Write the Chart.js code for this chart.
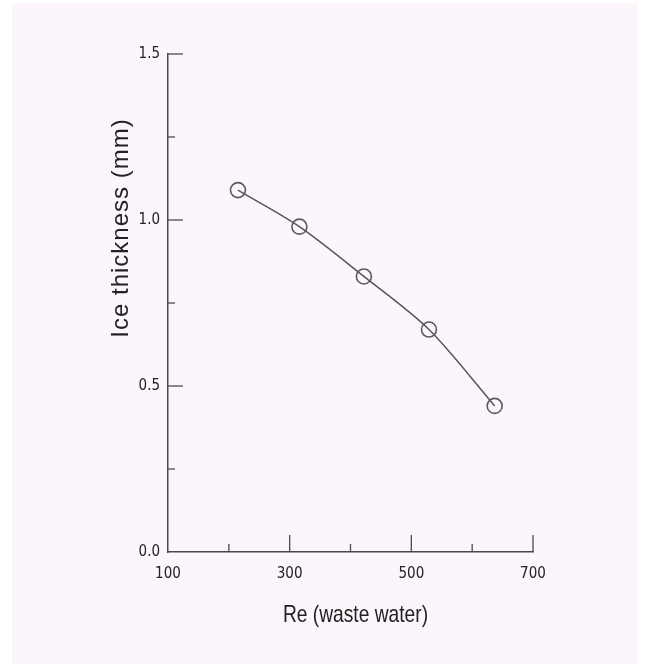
<!DOCTYPE html>
<html>
<head>
<meta charset="utf-8">
<script src="https://cdn.jsdelivr.net/npm/chart.js@4.4.1/dist/chart.umd.min.js"></script>
<style>
  html, body { margin: 0; padding: 0; background: #ffffff; }
  #paper { position: absolute; left: 12px; top: 3px; width: 626px; height: 661px; background: #fcf5fb; }
  #wrap { position: absolute; left: 0; top: 0; width: 645px; height: 664px; }
</style>
</head>
<body>
<div id="paper"></div>
<div id="wrap"><canvas id="chart"></canvas></div>
<script>
// data
const reynolds = [215, 316, 422, 529, 637];
const iceThickness = [1.09, 0.98, 0.83, 0.67, 0.44];

// tick labels shown on the axes
const xTickLabels = [100, 300, 500, 700];
const yTickLabels = ['0.0', '0.5', '1.0', '1.5'];

const xTitle = 'Re (waste water)';
const yTitle = 'Ice thickness (mm)';

const condensed = "'DejaVu Sans Condensed', 'Liberation Sans', sans-serif";
const axisColor = '#4a4a4a';

// ticks point inward, long ones where there is a label
const inwardTicks = {
    id: 'inwardTicks',
    afterDraw(chart) {
        const ctx = chart.ctx;
        const xs = chart.scales.x, ys = chart.scales.y;
        const area = chart.chartArea;
        ctx.save();
        ctx.strokeStyle = axisColor;
        ctx.lineWidth = 1.3;
        xs.ticks.forEach(t => {
            if (t.value === xs.min) return;
            const px = xs.getPixelForValue(t.value);
            const len = xTickLabels.includes(t.value) ? 17 : 8;
            ctx.beginPath();
            ctx.moveTo(px, area.bottom);
            ctx.lineTo(px, area.bottom - len);
            ctx.stroke();
        });
        ys.ticks.forEach(t => {
            if (t.value === ys.min) return;
            const py = ys.getPixelForValue(t.value);
            const labelled = Math.abs(t.value * 2 - Math.round(t.value * 2)) < 1e-9;
            const len = labelled ? 15 : 7;
            ctx.beginPath();
            ctx.moveTo(area.left, py);
            ctx.lineTo(area.left + len, py);
            ctx.stroke();
        });

        // axis titles
        ctx.fillStyle = '#222';
        ctx.textAlign = 'center';
        ctx.textBaseline = 'middle';
        ctx.save();
        ctx.translate((area.left + area.right) / 2 + 5, 615);
        ctx.scale(0.8, 1);
        ctx.font = "24px 'Liberation Sans', Arial, sans-serif";
        ctx.fillText(xTitle, 0, 0);
        ctx.restore();

        ctx.translate(121, 228);
        ctx.rotate(-Math.PI / 2);
        ctx.font = "24px 'Liberation Sans', Arial, sans-serif";
        ctx.letterSpacing = '1px';
        ctx.fillText(yTitle, 0, 0);
        ctx.restore();
    }
};

new Chart(document.getElementById('chart'), {
    type: 'line',
    data: {
        datasets: [{
            data: reynolds.map((x, i) => ({ x: x, y: iceThickness[i] })),
            borderColor: '#555',
            borderWidth: 1.5,
            tension: 0.3,
            pointRadius: 7.5,
            pointBorderWidth: 1.6,
            pointBorderColor: '#5a5a5a',
            pointBackgroundColor: 'rgba(0,0,0,0)',
            fill: false
        }]
    },
    options: {
        responsive: true,
        maintainAspectRatio: false,
        animation: false,
        events: [],
        layout: { padding: { left: 0, top: 54, right: 112, bottom: 0 } },
        plugins: { legend: { display: false }, tooltip: { enabled: false } },
        scales: {
            x: {
                type: 'linear',
                min: 100,
                max: 700,
                afterFit: s => { s.height = 112; },
                grid: { display: false, drawTicks: false },
                border: { display: true, color: axisColor, width: 1.5 },
                ticks: {
                    stepSize: 100,
                    padding: 13,
                    color: '#222',
                    font: { family: condensed, size: 15 },
                    maxRotation: 0,
                    autoSkip: false,
                    callback: v => xTickLabels.includes(v) ? String(v) : ''
                }
            },
            y: {
                type: 'linear',
                min: 0,
                max: 1.5,
                afterFit: s => { s.width = 168; },
                grid: { display: false, drawTicks: false },
                border: { display: true, color: axisColor, width: 1.5 },
                ticks: {
                    stepSize: 0.25,
                    padding: 8,
                    color: '#222',
                    font: { family: condensed, size: 15 },
                    autoSkip: false,
                    callback: v => yTickLabels.includes(v.toFixed(1)) && Math.abs(v * 2 - Math.round(v * 2)) < 1e-9 ? v.toFixed(1) : ''
                }
            }
        }
    },
    plugins: [inwardTicks]
});
</script>
</body>
</html>
